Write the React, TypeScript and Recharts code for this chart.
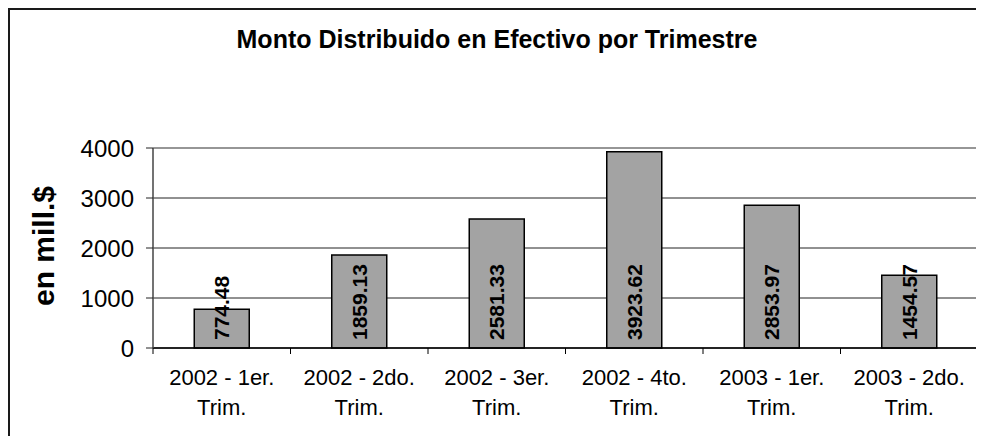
import React from 'react';
import { BarChart, Bar, XAxis, YAxis, CartesianGrid, ReferenceLine, LabelList } from 'recharts';

const periodTop = ['2002 - 1er.', '2002 - 2do.', '2002 - 3er.', '2002 - 4to.', '2003 - 1er.', '2003 - 2do.'];
const periodBottom = ['Trim.', 'Trim.', 'Trim.', 'Trim.', 'Trim.', 'Trim.'];
const amounts = [774.48, 1859.13, 2581.33, 3923.62, 2853.97, 1454.57];
const yTicks = [0, 1000, 2000, 3000, 4000];

const data = periodTop.map((p, i) => ({ period: p, bottom: periodBottom[i], amount: amounts[i] }));

const FONT = '"Liberation Sans", Arial, sans-serif';

const XTick = (props: any) => {
  const { x, y, payload, index } = props;
  const half = payload.offset ?? 0;
  const row = data[index] || data[0];
  const isLast = index === data.length - 1;
  return (
    <g>
      <line x1={x - half} x2={x - half} y1={y} y2={y + 6} stroke="#000" />
      {isLast && <line x1={x + half} x2={x + half} y1={y} y2={y + 6} stroke="#000" />}
      <text x={x} y={y + 37} textAnchor="middle" fontSize={22} fontFamily={FONT} fill="#000">
        {row.period}
      </text>
      <text x={x} y={y + 67} textAnchor="middle" fontSize={22} fontFamily={FONT} fill="#000">
        {row.bottom}
      </text>
    </g>
  );
};

const ValueLabel = (props: any) => {
  const { x, y, width, height, value } = props;
  const cx = x + width / 2;
  const by = y + height - 8;
  return (
    <text
      x={cx}
      y={by}
      transform={`rotate(-90 ${cx} ${by})`}
      textAnchor="start"
      dominantBaseline="central"
      fontSize={21}
      fontWeight="bold"
      fontFamily={FONT}
      fill="#000"
    >
      {value}
    </text>
  );
};

const YTitle = () => (
  <text
    x={33}
    y={236}
    transform="rotate(-90 33 236)"
    textAnchor="middle"
    dominantBaseline="central"
    fontSize={30}
    fontWeight="bold"
    fontFamily={FONT}
    fill="#000"
  >
    en mill.$
  </text>
);

export default function App() {
  return (
    <div
      style={{
        position: 'relative',
        width: 976,
        height: 428,
        boxSizing: 'border-box',
        borderTop: '2px solid #1a1a1a',
        borderLeft: '2px solid #1a1a1a',
        background: '#fff',
        fontFamily: FONT,
      }}
    >
      <div
        style={{
          position: 'absolute',
          left: 0,
          top: 17,
          width: 974,
          textAlign: 'center',
          fontSize: 25,
          lineHeight: '25px',
          fontWeight: 'bold',
          color: '#000',
        }}
      >
        Monto Distribuido en Efectivo por Trimestre
      </div>
      <div style={{ position: 'absolute', left: 0, top: 0 }}>
        <BarChart
          width={974}
          height={426}
          data={data}
          margin={{ top: 138, right: 6, bottom: 0, left: 0 }}
          barCategoryGap="30%"
        >
          <CartesianGrid yAxisId="left" vertical={false} stroke="#222" />
          <XAxis
            dataKey="period"
            height={88}
            tickLine={false}
            tickSize={0}
            tickMargin={0}
            interval={0}
            axisLine={{ stroke: '#000', strokeWidth: 1.5 }}
            tick={<XTick />}
          />
          <YAxis
            yAxisId="left"
            width={143}
            domain={[0, 4000]}
            ticks={yTicks}
            tickSize={7}
            tickMargin={12}
            tickLine={{ stroke: '#222' }}
            axisLine={{ stroke: '#444', strokeWidth: 1.5 }}
            tick={{ fontSize: 24, fill: '#000', fontFamily: FONT }}
            label={<YTitle />}
          />
          <YAxis
            yAxisId="right"
            orientation="right"
            width={0}
            domain={[0, 4000]}
            tick={false}
            tickLine={false}
            axisLine={{ stroke: '#999', strokeWidth: 1.5 }}
          />
          <ReferenceLine yAxisId="left" y={4000} stroke="#999" strokeWidth={1.5} />
          <Bar yAxisId="left" dataKey="amount" fill="#a3a3a3" stroke="#000" strokeWidth={1.5} isAnimationActive={false}>
            <LabelList dataKey="amount" content={<ValueLabel />} />
          </Bar>
        </BarChart>
      </div>
    </div>
  );
}
